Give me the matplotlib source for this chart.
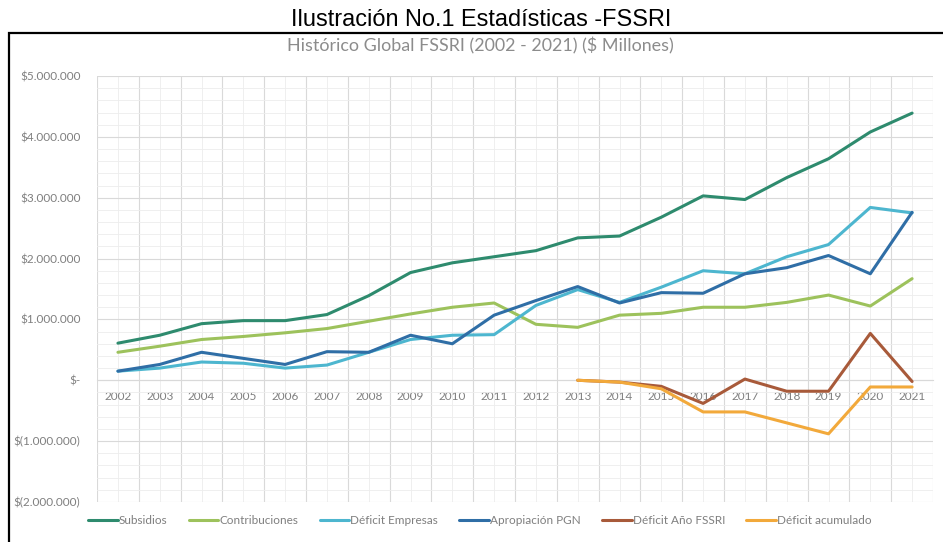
import matplotlib
matplotlib.use("Agg")
import matplotlib.pyplot as plt
from matplotlib.patches import Rectangle
from matplotlib.ticker import MultipleLocator, FuncFormatter

years = [str(y) for y in range(2002, 2022)]
subsidios = [0.61, 0.74, 0.93, 0.98, 0.98, 1.08, 1.39, 1.77, 1.93, 2.03, 2.13, 2.34, 2.37, 2.68, 3.03, 2.97, 3.33, 3.64, 4.08, 4.39]
contribuciones = [0.46, 0.56, 0.67, 0.72, 0.78, 0.85, 0.97, 1.09, 1.20, 1.27, 0.92, 0.87, 1.07, 1.10, 1.20, 1.20, 1.28, 1.40, 1.22, 1.67]
deficit_empresas = [0.15, 0.20, 0.30, 0.28, 0.20, 0.25, 0.46, 0.67, 0.74, 0.75, 1.23, 1.49, 1.28, 1.53, 1.80, 1.75, 2.03, 2.23, 2.84, 2.75]
apropiacion_pgn = [0.15, 0.26, 0.46, 0.36, 0.26, 0.47, 0.46, 0.74, 0.60, 1.07, 1.31, 1.54, 1.27, 1.44, 1.43, 1.75, 1.85, 2.05, 1.75, 2.76]
deficit_anio_years = [str(y) for y in range(2013, 2022)]
deficit_anio = [0.0, -0.03, -0.10, -0.38, 0.02, -0.18, -0.18, 0.77, -0.02]
deficit_acum = [0.0, -0.03, -0.14, -0.52, -0.52, -0.70, -0.88, -0.11, -0.11]

series = [
    ("Subsidios", years, subsidios, "#2E8B6E"),
    ("Contribuciones", years, contribuciones, "#9DC25C"),
    ("Déficit Empresas", years, deficit_empresas, "#4DB6CF"),
    ("Apropiación PGN", years, apropiacion_pgn, "#2F6EA6"),
    ("Déficit Año FSSRI", deficit_anio_years, deficit_anio, "#A85A3A"),
    ("Déficit acumulado", deficit_anio_years, deficit_acum, "#F2A93B"),
]

W, H = 943, 542
fig = plt.figure(figsize=(W / 100, H / 100), dpi=100)
ax = fig.add_axes([0.1029, 0.0738, 0.8865, 0.786])

idx = {y: i for i, y in enumerate(years)}
for name, xs, vals, col in series:
    ax.plot([idx[x] for x in xs], [v * 1e6 for v in vals], color=col, lw=2.2,
            label=name, solid_capstyle="round", zorder=3)

ax.set_xlim(-0.5, len(years) - 0.5)
ax.set_ylim(-2e6, 5e6)
ax.yaxis.set_major_locator(MultipleLocator(1e6))
ax.yaxis.set_minor_locator(MultipleLocator(2e5))
ax.set_xticks(range(len(years)))
ax.set_xticklabels(years)
ax.set_xticks([i - 0.5 for i in range(len(years) + 1)], minor=True)


def fmt(v, pos):
    m = int(round(v))
    if m == 0:
        return "$-"
    s = f"{abs(m):,}".replace(",", ".")
    return f"${s}" if m > 0 else f"$({s})"


ax.yaxis.set_major_formatter(FuncFormatter(fmt))
ax.grid(which="major", axis="y", color="#D9D9D9", lw=0.8, zorder=0)
ax.grid(which="minor", axis="y", color="#EDEDED", lw=0.6, zorder=0)
ax.grid(which="minor", axis="x", color="#D9D9D9", lw=0.8, zorder=0)
ax.grid(which="major", axis="x", color="#EDEDED", lw=0.6, zorder=0)
for s in ["top", "right", "left"]:
    ax.spines[s].set_visible(False)
ax.spines["bottom"].set_position(("data", 0))
ax.spines["bottom"].set_color("#D9D9D9")
ax.tick_params(axis="both", which="both", length=0, labelsize=8.5, labelcolor="#7F7F7F")
ax.tick_params(axis="x", pad=8)
ax.tick_params(axis="y", pad=12)
for lab in ax.get_xticklabels() + ax.get_yticklabels():
    lab.set_family("Lato")

t1 = fig.text(481 / W, 1 - 20 / H, "Ilustración No.1 Estadísticas -FSSRI", ha="center", va="center",
              fontsize=14, family="Liberation Sans", color="#000000")
t2 = fig.text(480 / W, 1 - 46 / H, "Histórico Global FSSRI (2002 - 2021) ($ Millones)", ha="center", va="center",
              fontsize=11, family="Lato", color="#8C8C8C")

fig.patches.append(Rectangle((9 / W, -0.02), 1.05, (H - 33) / H + 0.02, transform=fig.transFigure,
                             fill=False, edgecolor="black", lw=1.6))

leg = fig.legend(loc="center", bbox_to_anchor=(480 / W, 0.04), ncol=6, frameon=False,
                 handlelength=2.5, handletextpad=0.1, columnspacing=1.8,
                 prop={"family": "Lato", "size": 8.5})
for t in leg.get_texts():
    t.set_color("#7F7F7F")

# fit title widths to the reference
fig.canvas.draw()
r = fig.canvas.get_renderer()
for t, target in [(t1, 383), (t2, 384)]:
    w = t.get_window_extent(r).width
    t.set_fontsize(t.get_fontsize() * target / w)

fig.savefig("out.png", dpi=100)
